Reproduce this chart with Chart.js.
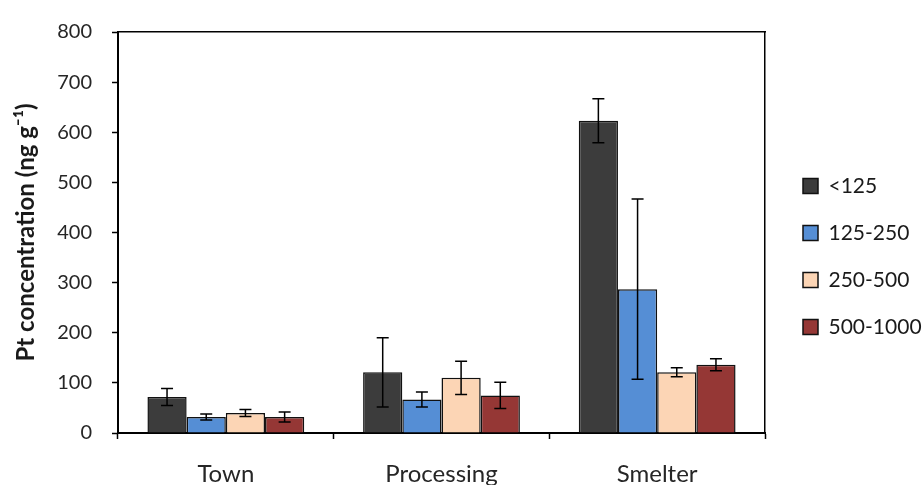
<!DOCTYPE html>
<html>
<head>
<meta charset="utf-8">
<script src="https://cdn.jsdelivr.net/npm/chart.js@4/dist/chart.umd.min.js"></script>
<style>
  html, body { margin: 0; padding: 0; background: #ffffff; }
  #wrap { width: 923px; height: 485px; }
</style>
</head>
<body>
<div id="wrap"><canvas id="c" width="923" height="485"></canvas></div>
<script>
// ---- data ----
const categories = ['Town', 'Processing', 'Smelter'];
const seriesNames = ['<125', '125-250', '250-500', '500-1000'];
const seriesColors = ['#3c3c3c', '#558ed5', '#fcd5b5', '#953735'];
const valuesLt125   = [72, 121, 623];
const values125_250 = [32, 67, 287];
const values250_500 = [40, 110, 121];
const values500_1000 = [32, 75, 136];
const errLt125   = [17, 69, 44];
const err125_250 = [6, 15, 180];
const err250_500 = [7, 33, 9];
const err500_1000 = [10, 26, 12];
const yMin = 0, yMax = 800, yStep = 100;
const yTitle = 'Pt concentration (ng g\u207B\u00B9)';

const seriesValues = [valuesLt125, values125_250, values250_500, values500_1000];
const seriesErrors = [errLt125, err125_250, err250_500, err500_1000];

Chart.defaults.font.family = 'Lato, "Open Sans", sans-serif';
Chart.defaults.color = '#262626';

const errorBarPlugin = {
  id: 'errorBars',
  afterDatasetsDraw(chart) {
    const ctx = chart.ctx;
    const yScale = chart.scales.y;
    ctx.save();
    ctx.strokeStyle = '#000000';
    ctx.lineWidth = 1.5;
    chart.data.datasets.forEach((ds, i) => {
      const meta = chart.getDatasetMeta(i);
      meta.data.forEach((bar, j) => {
        const v = ds.data[j];
        const e = ds.errors[j];
        const x = bar.x;
        const yTop = yScale.getPixelForValue(v + e);
        const yBot = yScale.getPixelForValue(v - e);
        const cap = 6;
        ctx.beginPath();
        ctx.moveTo(x, yTop); ctx.lineTo(x, yBot);
        ctx.moveTo(x - cap, yTop); ctx.lineTo(x + cap, yTop);
        ctx.moveTo(x - cap, yBot); ctx.lineTo(x + cap, yBot);
        ctx.stroke();
      });
    });
    ctx.restore();
  }
};

const datasets = seriesNames.map((name, i) => ({
  label: name,
  data: seriesValues[i],
  errors: seriesErrors[i],
  backgroundColor: seriesColors[i],
  borderColor: '#111111',
  borderWidth: 1.5,
  categoryPercentage: 0.727,
  barPercentage: 1.0
}));

new Chart(document.getElementById('c'), {
  type: 'bar',
  data: { labels: categories, datasets: datasets },
  plugins: [errorBarPlugin],
  options: {
    responsive: false,
    animation: false,
    layout: { padding: { top: 0, right: 0, bottom: 0, left: 0 } },
    plugins: {
      tooltip: { enabled: false },
      legend: {
        position: 'right',
        maxWidth: 146,
        title: { display: true, text: '', font: { size: 12 }, padding: { top: 0, bottom: 13.6 } },
        labels: {
          boxWidth: 15,
          boxHeight: 15,
          padding: 26,
          color: '#1a1a1a',
          font: { size: 21 }
        }
      }
    },
    scales: {
      x: {
        position: 'bottom',
        grid: { display: true, offset: true, drawOnChartArea: false, drawTicks: true, tickLength: 6, tickColor: '#000', tickWidth: 1.5 },
        border: { display: true, color: '#000', width: 2 },
        ticks: { padding: 21, color: '#262626', font: { size: 24 } },
        afterFit(s) { s.height = 52; }
      },
      x2: {
        type: 'category',
        position: 'top',
        grid: { display: true, drawOnChartArea: false, drawTicks: false },
        border: { display: true, color: '#000', width: 1.5 },
        ticks: { display: false },
        afterFit(s) { s.height = 22.5; }
      },
      y: {
        position: 'left',
        min: yMin, max: yMax,
        ticks: { stepSize: yStep, padding: 20, color: '#262626', font: { size: 20 } },
        grid: { display: true, drawOnChartArea: false, drawTicks: true, tickLength: 6, tickColor: '#000', tickWidth: 1.5 },
        border: { display: true, color: '#000', width: 2 },
        title: { display: true, text: yTitle, color: '#1a1a1a', font: { size: 24, weight: 'bold' }, padding: { top: 11.6, bottom: 0 } },
        afterFit(s) { s.width = 118; }
      },
      y2: {
        position: 'right',
        min: yMin, max: yMax,
        ticks: { display: false },
        grid: { display: true, drawOnChartArea: false, drawTicks: false },
        border: { display: true, color: '#000', width: 1.5 },
        afterFit(s) { s.width = 12; }
      }
    }
  }
});
</script>
</body>
</html>
